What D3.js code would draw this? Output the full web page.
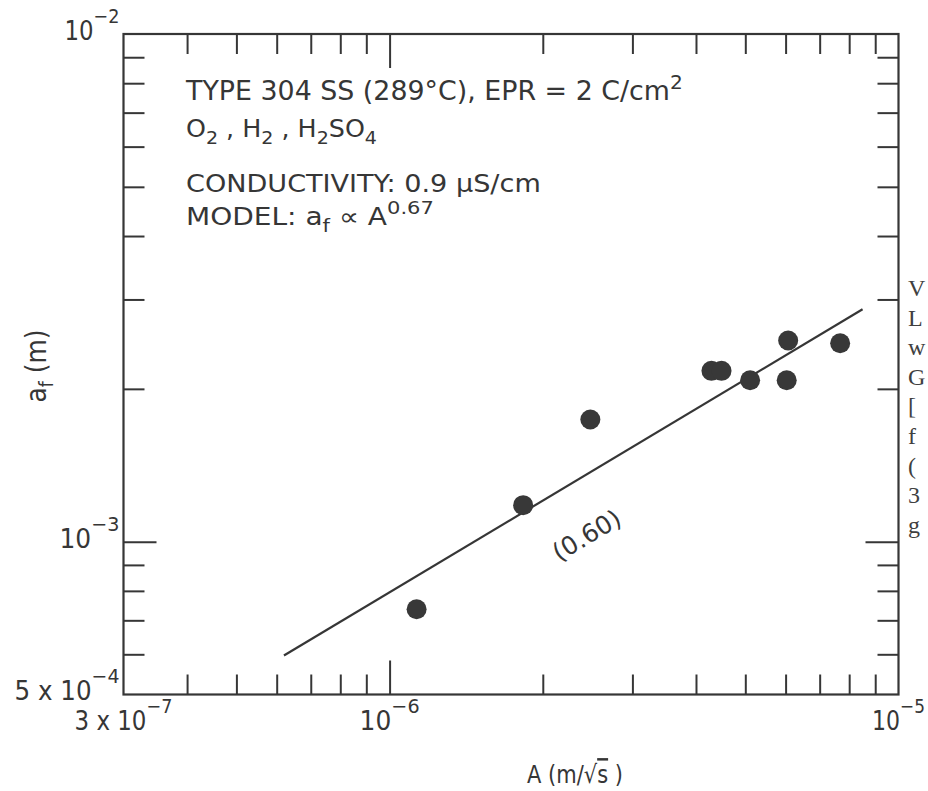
<!DOCTYPE html>
<html>
<head>
<meta charset="utf-8">
<script src="https://cdn.jsdelivr.net/npm/d3@7"></script>
<style>
  html, body { margin: 0; padding: 0; background: #ffffff; }
  svg { display: block; }
  text { font-family: "DejaVu Sans", "Open Sans", sans-serif; fill: #363636; }
  .serif { font-family: "Liberation Serif", "DejaVu Serif", serif; fill: #404040; }
</style>
</head>
<body>
<svg id="chart" width="928" height="791"></svg>
<script>
// Measured crack growth: parameter A (m/√s) against final crack depth a_f (m)
const ampA   = [1.13e-6, 1.83e-6, 2.48e-6, 4.29e-6, 4.49e-6, 5.11e-6, 6.07e-6, 6.03e-6, 7.68e-6];
const depthA = [7.36e-4, 1.18e-3, 1.74e-3, 2.17e-3, 2.17e-3, 2.08e-3, 2.49e-3, 2.08e-3, 2.46e-3];

// Power-law fit: a_f = c · A^0.60
const fitSlope  = 0.60;
const fitAnchor = [2.30e-6, 1.31e-3];
const fitSpan   = [6.2e-7, 8.5e-6];
const fitLabelAt = 2.16e-6;

// Axis domains and ticks
const xDomain = [3e-7, 1e-5];
const yDomain = [5e-4, 1e-2];
const xMajor = [1e-6];
const xMinor = [4e-7, 5e-7, 6e-7, 7e-7, 8e-7, 9e-7, 2e-6, 3e-6, 4e-6, 5e-6, 6e-6, 7e-6, 8e-6, 9e-6];
const yMajor = [1e-3];
const yMinor = [6e-4, 7e-4, 8e-4, 9e-4, 2e-3, 3e-3, 4e-3, 5e-3, 6e-3, 7e-3, 8e-3, 9e-3];

// Tick labels: [value, mantissa text, exponent]
const xTickLabels = [[3e-7, "3 x 10", "−7"], [1e-6, "10", "−6"], [1e-5, "10", "−5"]];
const yTickLabels = [[1e-2, "10", "−2"], [1e-3, "10", "−3"], [5e-4, "5 x 10", "−4"]];

// Neighbouring column of body text at the page edge
const sideLetters = ["V", "L", "w", "G", "[", "f", "(", "3", "g"];

const svg = d3.select("#chart");
const ink = "#363636";

const frame = { left: 123.5, right: 898.5, top: 34, bottom: 694.5 };

const x = d3.scaleLog().domain(xDomain).range([frame.left, frame.right]);
const y = d3.scaleLog().domain(yDomain).range([frame.bottom, frame.top]);

// Squeeze/stretch a text node horizontally so it spans a given width
function fitWidth(node, anchorX, width) {
  const w = node.getBBox().width;
  const s = width / w;
  d3.select(node).attr("transform",
    `translate(${anchorX},0) scale(${s},1) translate(${-anchorX},0)`);
}

// Inward-pointing ticks on all four sides
function tickGroup(axisFn, scale, values, size, tx, ty) {
  const g = svg.append("g")
    .attr("transform", `translate(${tx},${ty})`)
    .call(axisFn(scale).tickValues(values).tickSize(size).tickFormat(""));
  g.select(".domain").remove();
  g.selectAll(".tick line").attr("stroke", ink).attr("stroke-width", 2);
  return g;
}
tickGroup(d3.axisBottom, x, xMinor, -20, 0, frame.bottom);
tickGroup(d3.axisBottom, x, xMajor, -34, 0, frame.bottom);
tickGroup(d3.axisTop, x, xMinor, -20, 0, frame.top);
tickGroup(d3.axisTop, x, xMajor, -34, 0, frame.top);
tickGroup(d3.axisLeft, y, yMinor, -21, frame.left, 0);
tickGroup(d3.axisLeft, y, yMajor, -33, frame.left, 0);
tickGroup(d3.axisRight, y, yMinor, -21, frame.right, 0);
tickGroup(d3.axisRight, y, yMajor, -33, frame.right, 0);

// Plot frame
svg.append("rect")
  .attr("x", frame.left).attr("y", frame.top)
  .attr("width", frame.right - frame.left).attr("height", frame.bottom - frame.top)
  .attr("fill", "none").attr("stroke", ink).attr("stroke-width", 2.2);

// Tick labels: mantissa with a raised exponent
function powerLabel(px, py, anchor, mant, exp, width) {
  const t = svg.append("text")
    .attr("x", px).attr("y", py)
    .attr("text-anchor", anchor)
    .attr("font-size", 26);
  t.append("tspan").text(mant);
  t.append("tspan").attr("dy", -17).attr("font-size", 20).text(exp);
  fitWidth(t.node(), px, width);
  return t;
}
const xLabelWidths = [98, 60, 53];
xTickLabels.forEach((d, i) => powerLabel(x(d[0]), frame.bottom + 36, "middle", d[1], d[2], xLabelWidths[i]));
const yLabelWidths = [55, 60, 105];
yTickLabels.forEach((d, i) => powerLabel(frame.left - 4, y(d[0]) + 6, "end", d[1], d[2], yLabelWidths[i]));

// Axis titles
const xTitleX = 575;
const xTitle = svg.append("text")
  .attr("x", xTitleX).attr("y", 783)
  .attr("text-anchor", "middle").attr("font-size", 25);
xTitle.append("tspan").text("A (m/√");
xTitle.append("tspan").style("text-decoration", "overline").text("s");
xTitle.append("tspan").text(" )");
fitWidth(xTitle.node(), xTitleX, 96);

const yTitle = svg.append("text")
  .attr("x", 0).attr("y", 0)
  .attr("text-anchor", "middle").attr("font-size", 28);
yTitle.append("tspan").text("a");
yTitle.append("tspan").attr("dy", 7).attr("font-size", 19).text("f");
yTitle.append("tspan").attr("dy", -7).text(" (m)");
{
  const w = yTitle.node().getBBox().width;
  yTitle.attr("transform", `translate(46,366) rotate(-90) scale(${73 / w},1)`);
}

// Annotation block
const noteX = 186;
function note(py, size, parts, width) {
  const t = svg.append("text").attr("x", noteX).attr("y", py).attr("font-size", size);
  let shift = 0;
  parts.forEach(p => {
    const kind = p[1] || "n";
    const s = t.append("tspan").text(p[0]);
    if (kind === "sub") { s.attr("dy", 7 - shift).attr("font-size", size * 0.75); shift = 7; }
    else if (kind === "sup") { s.attr("dy", -11 - shift).attr("font-size", size * 0.75); shift = -11; }
    else if (shift !== 0) { s.attr("dy", -shift); shift = 0; }
  });
  fitWidth(t.node(), noteX, width);
  return t;
}
note(100, 26, [["TYPE 304 SS (289°C), EPR = 2 C/cm"], ["2", "sup"]], 498);
note(137, 24, [["O"], ["2", "sub"], [" , H"], ["2", "sub"], [" , H"], ["2", "sub"], ["SO"], ["4", "sub"]], 191);
note(192, 24, [["CONDUCTIVITY: 0.9 μS/cm"]], 355);
note(225, 24, [["MODEL: a"], ["f", "sub"], [" ∝ A"], ["0.67", "sup"]], 248);

// Fitted power-law line
const fitLine = fitSpan.map(a => [a, fitAnchor[1] * Math.pow(a / fitAnchor[0], fitSlope)]);
svg.append("path")
  .datum(fitLine)
  .attr("d", d3.line().x(d => x(d[0])).y(d => y(d[1])))
  .attr("fill", "none").attr("stroke", ink).attr("stroke-width", 2.2);

// Slope label set below the line, rotated to follow it
const p0 = [x(fitLine[0][0]), y(fitLine[0][1])];
const p1 = [x(fitLine[1][0]), y(fitLine[1][1])];
const angle = Math.atan2(p1[1] - p0[1], p1[0] - p0[0]) * 180 / Math.PI;
const lx = x(fitLabelAt);
const ly = y(fitAnchor[1] * Math.pow(fitLabelAt / fitAnchor[0], fitSlope));
svg.append("text")
  .attr("transform", `translate(${lx},${ly}) rotate(${angle}) translate(0,61)`)
  .attr("text-anchor", "middle").attr("font-size", 25)
  .text("(0.60)");

// Data points
svg.append("g").selectAll("circle")
  .data(ampA.map((a, i) => [a, depthA[i]]))
  .join("circle")
  .attr("cx", d => x(d[0])).attr("cy", d => y(d[1]))
  .attr("r", 10).attr("fill", "#383838");

// Body text from the adjacent column
svg.append("g").selectAll("text")
  .data(sideLetters)
  .join("text")
  .attr("class", "serif")
  .attr("x", 908).attr("y", (d, i) => 296 + i * 29.6)
  .attr("font-size", 24)
  .text(d => d);
</script>
</body>
</html>
